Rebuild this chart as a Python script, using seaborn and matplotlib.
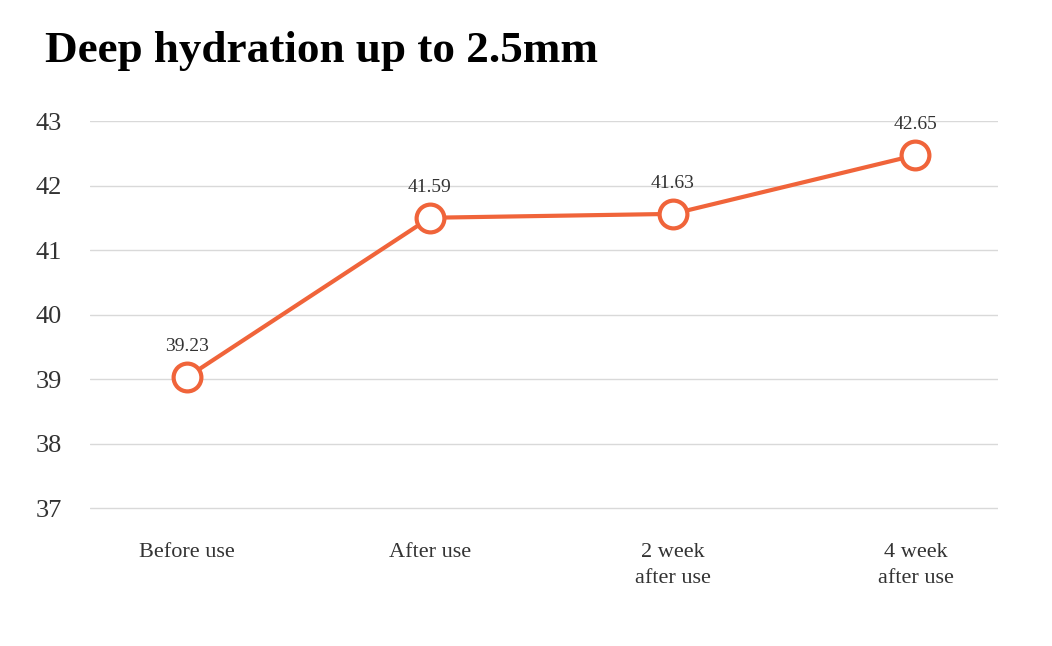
import matplotlib
matplotlib.use("Agg")
import matplotlib.pyplot as plt
import seaborn as sns
import pandas as pd

# values
stages = ['Before use', 'After use', '2 week\nafter use', '4 week\nafter use']
plotted = [39.03, 41.50, 41.56, 42.47]   # where the markers sit
labels = ['39.23', '41.59', '41.63', '42.65']  # printed value labels
yticks = [37, 38, 39, 40, 41, 42, 43]

df = pd.DataFrame({'stage': stages, 'value': plotted})
df['pos'] = range(len(stages))

sns.set_style("white")
plt.rcParams['font.family'] = ['Liberation Serif', 'DejaVu Serif']

orange = '#F0643A'

fig = plt.figure(figsize=(10.52, 6.46), dpi=100)
ax = fig.add_axes([90 / 1052, 1 - 510 / 646, 908 / 1052, 389 / 646])

sns.lineplot(data=df, x='pos', y='value', ax=ax, color=orange, linewidth=3,
             marker='o', markersize=20, markerfacecolor='white',
             markeredgecolor=orange, markeredgewidth=3, clip_on=False, zorder=3)

for x, y, t in zip(df['pos'], df['value'], labels):
    ax.annotate(t, (x, y), xytext=(0, 16), textcoords='offset points',
                ha='center', va='bottom', fontsize=14, color='#333333')

ax.set_xlim(-0.4, 3.34)
ax.set_ylim(36.97, 43)
ax.set_yticks(yticks)
ax.set_yticklabels([str(v) for v in yticks], fontsize=19, color='#333333')
ax.set_xticks(df['pos'])
ax.set_xticklabels(stages, fontsize=16, color='#333333', linespacing=1.5)
ax.tick_params(axis='y', length=0, pad=20)
ax.tick_params(axis='x', length=0, pad=24)
ax.grid(axis='y', color='#d9d9d9', linewidth=1)
ax.set_axisbelow(True)
for s in ax.spines.values():
    s.set_visible(False)
ax.set_xlabel('')
ax.set_ylabel('')

fig.text(45 / 1052, 1 - 62 / 646, 'Deep hydration up to 2.5mm', fontsize=32.5,
         fontweight='bold', color='black', ha='left', va='baseline')

fig.savefig('out.png', dpi=100, facecolor='white')
